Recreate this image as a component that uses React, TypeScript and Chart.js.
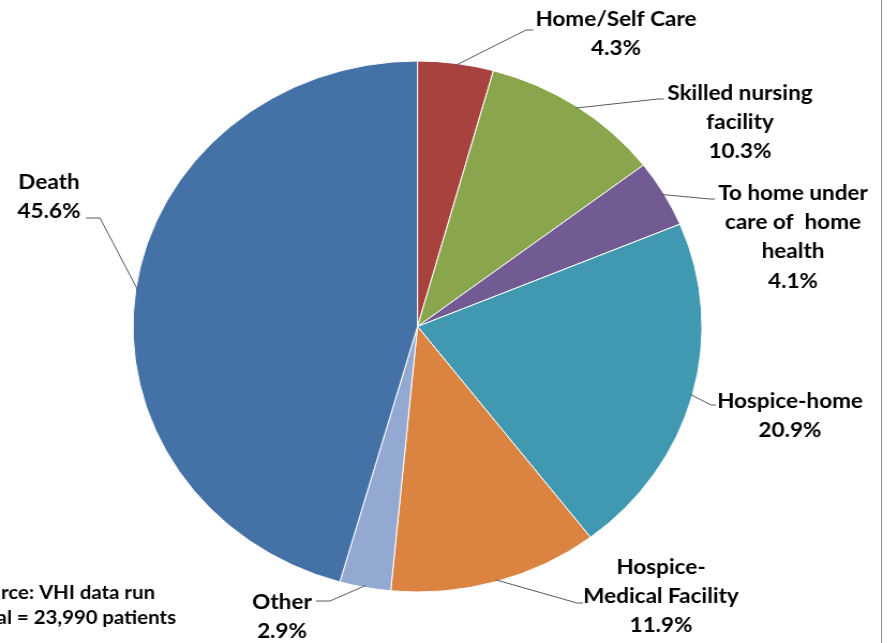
import React, { useEffect, useRef } from "react";
import { Chart, registerables } from "chart.js";

Chart.register(...registerables);

const categories = [
  "Home/Self Care",
  "Skilled nursing facility",
  "To home under care of home health",
  "Hospice-home",
  "Hospice-Medical Facility",
  "Other",
  "Death",
];
const values = [4.3, 10.3, 4.1, 20.9, 11.9, 2.9, 45.6];
const labelLines = [
  ["Home/Self Care"],
  ["Skilled nursing", "facility"],
  ["To home under", "care of  home", "health"],
  ["Hospice-home"],
  ["Hospice-", "Medical Facility"],
  ["Other"],
  ["Death"],
];
const colors = ["#A8423F", "#8AA64C", "#725A93", "#4198B1", "#DB8340", "#94A9D2", "#4572A6"];
const sourceLines = ["Source: VHI data run", "Total = 23,990 patients"];

const S = 1.0716; // horizontal stretch of the picture
const W = 892;
const H = 643;
const CW = Math.round(W / S);

// label layout in screen coordinates: text centre x, first line y, elbow, end
const layout = [
  { cx: 616, y0: 19, elbow: [526, 30], end: [533, 30] },
  { cx: 740, y0: 93, elbow: [658, 99], end: [664, 99] },
  { cx: 793, y0: 193, elbow: [710, 199], end: [715, 199] },
  { cx: 790, y0: 401, elbow: [711, 405], end: [716, 405] },
  { cx: 661, y0: 567, elbow: [577, 603], end: [583, 603] },
  { cx: 282, y0: 602, elbow: [330, 601], end: [316, 601] },
  { cx: 49, y0: 182, elbow: [100, 218], end: [86, 218] },
];
const LINE_H = 29.3;
const FONT = "bold 21px Lato, 'Open Sans', sans-serif";

const labelPlugin = {
  id: "labels",
  afterDraw(chart: any) {
    const ctx = chart.ctx;
    const meta = chart.getDatasetMeta(0);
    ctx.save();
    meta.data.forEach((arc: any, i: number) => {
      const p = arc.getProps(["x", "y", "startAngle", "endAngle", "outerRadius"], true);
      const mid = (p.startAngle + p.endAngle) / 2;
      const r = p.outerRadius - 2;
      const sx = p.x + Math.cos(mid) * r;
      const sy = p.y + Math.sin(mid) * r;
      const L = layout[i];
      ctx.strokeStyle = "#595959";
      ctx.lineWidth = 1;
      ctx.beginPath();
      ctx.moveTo(sx, sy);
      ctx.lineTo(L.elbow[0] / S, L.elbow[1]);
      ctx.lineTo(L.end[0] / S, L.end[1]);
      ctx.stroke();
      const lines = [...labelLines[i], values[i].toFixed(1) + "%"];
      ctx.fillStyle = "#000";
      ctx.font = FONT;
      ctx.textAlign = "center";
      ctx.textBaseline = "middle";
      lines.forEach((t, k) => {
        ctx.fillText(t, L.cx / S, L.y0 + k * LINE_H);
      });
    });
    ctx.font = "bold 19px Lato, 'Open Sans', sans-serif";
    ctx.textAlign = "right";
    ctx.textBaseline = "middle";
    ctx.fillStyle = "#000";
    ctx.fillText(sourceLines[0], 155 / S, 593);
    ctx.fillText(sourceLines[1], 176 / S, 618);
    ctx.restore();
  },
};

export default function App() {
  const ref = useRef<HTMLCanvasElement | null>(null);
  useEffect(() => {
    if (!ref.current) return;
    const cx = 417.5 / S;
    const cy = 326.5;
    const R = 266;
    const chart = new Chart(ref.current, {
      type: "pie",
      data: {
        labels: categories,
        datasets: [
          {
            data: values,
            backgroundColor: colors,
            borderColor: "#ffffff",
            borderWidth: 1,
          },
        ],
      },
      options: {
        animation: false,
        responsive: false,
        maintainAspectRatio: false,
        devicePixelRatio: 1,
        layout: {
          padding: {
            left: cx - R,
            right: CW - (cx + R),
            top: cy - R,
            bottom: H - (cy + R),
          },
        },
        plugins: {
          legend: { display: false },
          tooltip: { enabled: false },
        },
      },
      plugins: [labelPlugin],
    });
    return () => chart.destroy();
  }, []);
  return (
    <div
      style={{
        position: "absolute",
        left: 0,
        top: 0,
        width: W,
        height: H,
        overflow: "hidden",
        background: "#fff",
      }}
    >
      <canvas
        ref={ref}
        width={CW}
        height={H}
        style={{
          position: "absolute",
          left: 0,
          top: 0,
          width: CW,
          height: H,
          transform: `scaleX(${S})`,
          transformOrigin: "0 0",
        }}
      />
      <div
        style={{
          position: "absolute",
          left: 881,
          top: 0,
          width: 1,
          height: H,
          background: "#8c8c8c",
        }}
      />
    </div>
  );
}
